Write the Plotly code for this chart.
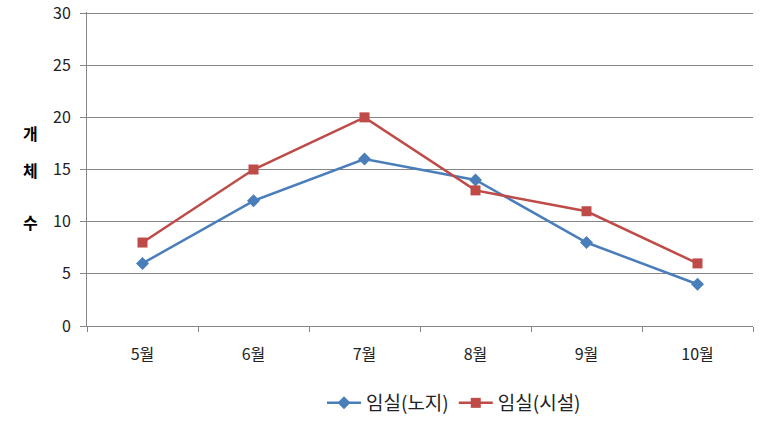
import plotly.graph_objects as go

months = ["5월", "6월", "7월", "8월", "9월", "10월"]
open_field = [6, 12, 16, 14, 8, 4]
greenhouse = [8, 15, 20, 13, 11, 6]
series_names = ["임실(노지)", "임실(시설)"]
y_ticks = [0, 5, 10, 15, 20, 25, 30]

FONT = "Noto Sans CJK KR"
fig = go.Figure()
fig.add_trace(go.Scatter(x=months, y=open_field, name=series_names[0], mode="lines+markers",
                         line=dict(color="#4A7EBB", width=2.5),
                         marker=dict(symbol="diamond", size=10, color="#4A7EBB")))
fig.add_trace(go.Scatter(x=months, y=greenhouse, name=series_names[1], mode="lines+markers",
                         line=dict(color="#BE4B48", width=2.5),
                         marker=dict(symbol="square", size=10, color="#BE4B48")))

W, H = 767, 424
L, R, T, B = 87, 14, 12, 98
fig.update_layout(
    width=W, height=H, margin=dict(l=L, r=R, t=T, b=B, autoexpand=False),
    paper_bgcolor="white", plot_bgcolor="white",
    font=dict(family=FONT, size=16, color="#222"),
    showlegend=True,
    legend=dict(orientation="h", x=(454 - L) / (W - L - R), xanchor="center", xref="paper",
                yref="container", y=(H - 403) / H, yanchor="middle",
                font=dict(size=19, family=FONT), itemwidth=34),
    xaxis=dict(type="category", range=[-0.5, 5.5], tickson="boundaries",
               ticks="outside", ticklen=5, tickcolor="#868686",
               showline=True, linecolor="#868686", linewidth=1,
               showgrid=False, tickfont=dict(size=16), ticklabelstandoff=14),
    yaxis=dict(range=[0, 30.1], tickvals=y_ticks, ticks="outside", ticklen=6,
               tickcolor="#868686", showline=True, linecolor="#868686",
               gridcolor="#868686", gridwidth=1, zeroline=False,
               tickfont=dict(size=16), ticklabelstandoff=6,
               ticklabeloverflow="allow"),
)
pw, ph = W - L - R, H - T - B
for ch, py in [("개", 133), ("체", 170), ("수", 222)]:
    fig.add_annotation(text="<b>" + ch + "</b>", xref="paper", yref="paper",
                       x=(30 - L) / pw, y=(H - B - py) / ph, xanchor="center", yanchor="middle",
                       showarrow=False, font=dict(size=16, family=FONT, color="#000"))
fig.write_html("out.html")
